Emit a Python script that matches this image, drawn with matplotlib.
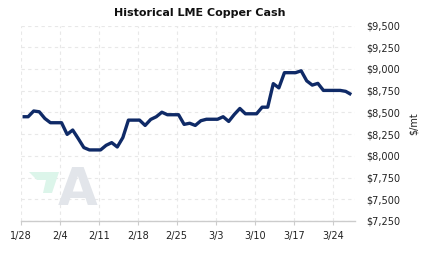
import numpy as np
import pandas as pd
import matplotlib
matplotlib.use("Agg")
from matplotlib import pyplot as plt
from matplotlib.patches import Polygon

# daily LME copper cash, weekends carried forward ($/mt)
start_date = "2024-01-28"
prices = [8450, 8450, 8516, 8507, 8430, 8381, 8381, 8381, 8247, 8297,
          8198, 8095, 8068, 8068, 8068, 8121, 8152, 8102, 8210, 8411,
          8411, 8411, 8350, 8419, 8450, 8502, 8473, 8473, 8473, 8362,
          8375, 8350, 8404, 8421, 8421, 8421, 8450, 8396, 8476, 8545,
          8484, 8484, 8484, 8560, 8560, 8831, 8782, 8957, 8957, 8957,
          8979, 8863, 8814, 8834, 8753, 8753, 8753, 8753, 8742, 8705]
y_ticks = [7250, 7500, 7750, 8000, 8250, 8500, 8750, 9000, 9250, 9500]

dates = pd.date_range(start_date, periods=len(prices), freq="D")
tick_dates = pd.date_range(start_date, periods=9, freq="7D")
tick_labels = [f"{d.month}/{d.day}" for d in tick_dates]

fig = plt.figure(figsize=(4.23, 2.57), dpi=100)
ax = fig.add_axes([20.7 / 423, 1 - 221 / 257, (355 - 20.7) / 423, (221 - 25.5) / 257])

ax.plot(dates + pd.Timedelta(hours=8), prices, color="#0f2a67", lw=2.4,
        solid_joinstyle="round", solid_capstyle="butt", zorder=3)

ax.set_xlim(pd.Timestamp(start_date), pd.Timestamp(start_date) + pd.Timedelta(days=60))
ax.set_ylim(7250, 9500)
ax.set_xticks(tick_dates)
ax.set_xticklabels(tick_labels)
ax.set_yticks(y_ticks)
ax.set_yticklabels([f"${v:,}" for v in y_ticks])

ax.yaxis.tick_right()
ax.yaxis.set_label_position("right")
ax.set_ylabel("$/mt", fontsize=7, rotation=90, labelpad=6, color="#222222")

for s in ["top", "left", "right"]:
    ax.spines[s].set_visible(False)
ax.spines["bottom"].set_color("#cccccc")
ax.spines["bottom"].set_linewidth(1)

ax.tick_params(axis="y", length=0, pad=8, labelsize=7, colors="#222222")
ax.tick_params(axis="x", length=3, width=0.8, color="#cccccc", pad=4,
               labelsize=7, labelcolor="#222222")

ax.grid(True, color="#e8e8e8", lw=0.8, linestyle=(0, (3, 3)))
ax.set_axisbelow(True)

fig.text(200 / 423, 1 - 13 / 257, "Historical LME Copper Cash", ha="center",
         va="center", fontsize=8, fontweight="bold", color="#111111")

# faint logo watermark
pts = [(29, 172), (59, 172), (52, 193), (43, 193), (46, 180), (37, 180)]
fig.patches.append(Polygon([(x / 423, 1 - y / 257) for x, y in pts], closed=True,
                           transform=fig.transFigure, facecolor="#dcf5ea",
                           edgecolor="none", zorder=0))
fig.text(78 / 423, 1 - 191 / 257, "A", ha="center", va="center", fontsize=37,
         fontweight="bold", color="#e2e5ea", zorder=0)

fig.savefig("out.png", dpi=100)
